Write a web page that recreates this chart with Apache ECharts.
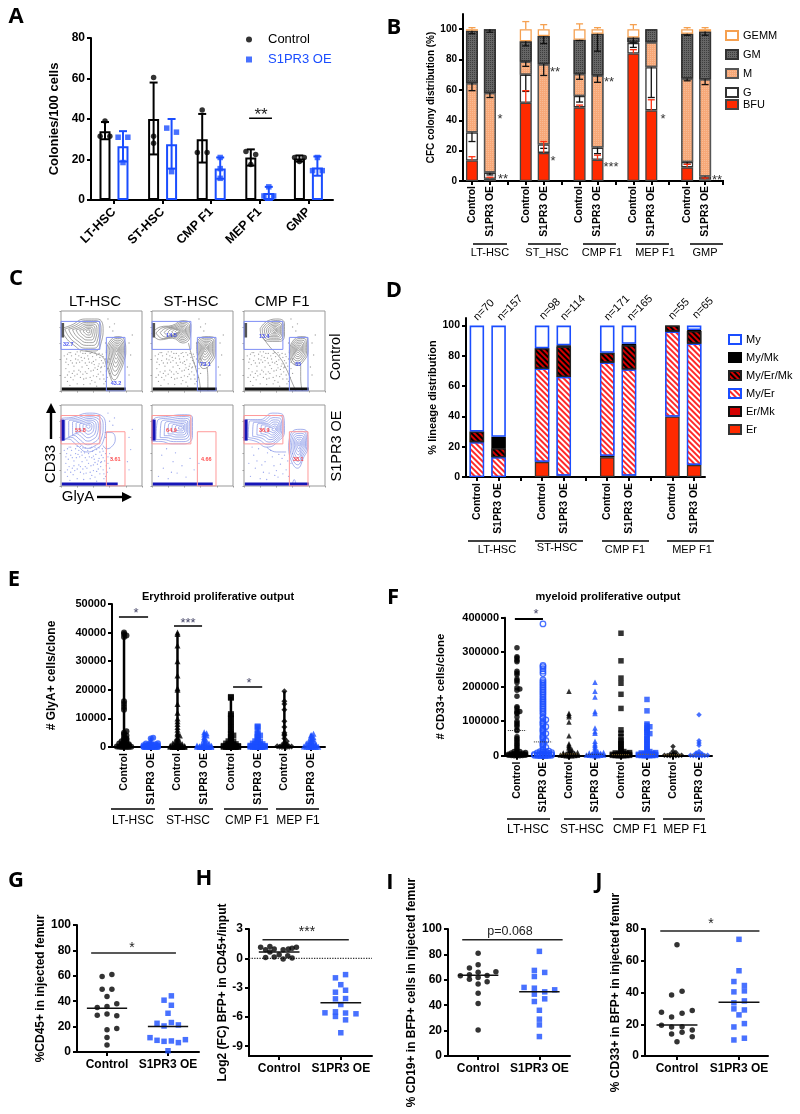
<!DOCTYPE html>
<html><head><meta charset="utf-8">
<style>html,body{margin:0;padding:0;background:#fff}#c{width:800px;height:1114px}</style>
<script src="https://cdn.jsdelivr.net/npm/echarts@6/dist/echarts.min.js"></script>
</head><body><div id="c"></div>
<script>
/* ---------- Panel A ---------- */
const aGroups=['LT-HSC','ST-HSC','CMP F1','MEP F1','GMP'];
const aControl=[34,40,30,21,20.5];
const aOE=[26.5,27.5,15.5,3.5,16];
const aControlErr=[[30,38.5],[22.5,58],[18.5,42.5],[17,25],[19,22]];
const aOEErr=[[19,34],[15.5,40],[10.5,21],[0,6.5],[12,21.5]];
const aControlDots=[[0,39],[-.1,31.5],[.1,31.5],[0,60.5],[0,31.5],[0,28],[0,44.5],[-.1,23.5],[.1,23.5],[-.1,24],[.1,22.5],[0,17.5],[-.1,21],[.1,21],[0,19]];
const aOEDots=[[-.1,31],[.1,31],[0,18.5],[-.1,35.5],[.1,33.5],[0,14],[0,21],[0,15.5],[0,10.7],[0,6.5],[-.1,2],[.1,2],[0,21],[-.1,14.5],[.1,14.5]];
/* ---------- Panel B ---------- */
const bCats=['Control','S1PR3 OE','','Control','S1PR3 OE','','Control','S1PR3 OE','','Control','S1PR3 OE','','Control','S1PR3 OE',''];
const bBFU=[13.5,1.5,0,51.5,18.5,0,48.5,14,0,84,46.5,0,9,1,0];
const bG=[18.5,4,0,18.5,5.5,0,7.5,8,0,7,28.5,0,3.5,2,0];
const bM=[32.5,52.5,0,8.5,53,0,14.5,47.5,0,.5,16.5,0,55,64,0];
const bGM=[34.5,42,0,13.5,18.5,0,22.5,27.5,0,3,8.5,0,29.5,31.5,0];
const bGEMM=[1,0,0,8,4.5,0,7,3,0,5.5,0,0,3,1.5,0];
const bErrBlack=[[0,32,26],[0,64.5,59.5],[0,99,97],[1,5.5,4],[1,58,55],[1,100,98],[3,70,59],[3,78.5,75.5],[3,92,89],[4,24,21.5],[4,77,69.5],[4,95.5,90.5],[6,56,52],[6,70.5,67],[6,93,92.5],[7,22,18],[7,69.5,65],[7,97,85.5],[9,91,88],[9,94.5,91],[10,75,55],[12,12.5,11],[12,67.5,66],[12,97,96],[13,3,2],[13,67,63.5],[13,98.5,96]];
const bErrRed=[[0,13.5,16],[1,1.5,2.5],[3,51.5,59.5],[4,18.5,26],[6,48.5,50],[7,14,17],[9,84,86.5],[10,46.5,53.5],[12,9,11],[13,1,2]];
const bErrOrange=[[0,100,101],[3,100,105],[4,100,103],[6,100,103.5],[7,100,101],[9,100,103],[12,100,101],[13,100,101]];
/* ---------- Panel D ---------- */
const dCats=['Control','S1PR3 OE','','Control','S1PR3 OE','','Control','S1PR3 OE','','Control','S1PR3 OE'];
const dEr=[0,0,0,10,0,0,13,0,0,40,8];
const dErMk=[0,0,0,0,1,0,1,1,0,0,0];
const dMyEr=[23,13,0,61.5,65,0,61.5,70,0,56,80];
const dMyErMk=[7,6,0,13.5,20,0,6.5,16,0,4,8.5];
const dMyMk=[0,7.5,0,0,1,0,0,1,0,0,.5];
const dMy=[70,73.5,0,15,13,0,18,12,0,0,3];
const dCounts=['n=70','n=157','n=98','n=114','n=171','n=165','n=55','n=65'];
/* ---------- Panel E ---------- */
const eCats=['Control','S1PR3 OE','Control','S1PR3 OE','Control','S1PR3 OE','Control','S1PR3 OE'];
const eLT0=[40000,39500,39000,38500,16000,15000,14000,13000,5500,5000,4500,4000,3500,3000,2800,2500,2200,2000,1800,1500,1200,1000,900,800,700,600,500,400,300,200,100,50,0,0,0,0];
const eLT1=[3200,3000,1500,1300,1200,1000,900,800,700,600,500,400,300,250,200,150,100,100,50,50,30,20,10,0,0,0,0,0,0,0];
const eST0=[40000,39500,35500,30000,25000,20500,20000,15000,12000,10000,9000,8000,7000,6000,5000,4500,4000,3500,3000,2500,2000,1800,1500,1200,1000,900,800,700,600,500,450,400,350,300,250,200,150,100,50,0,0,0,0,0,0];
const eST1=[5200,4800,4400,4000,3500,3000,2500,2000,1500,1200,1000,800,700,600,500,400,300,250,200,150,100,50,0,0,0,0,0,0];
const eCMP0=[17500,17200,11500,11000,10000,9000,8000,7000,6000,5000,4500,4000,3500,3000,2500,2000,1800,1500,1200,1000,900,800,700,600,500,450,400,350,300,250,200,150,100,50,0,0,0,0,0,0];
const eCMP1=[7200,6900,5000,4500,4000,3500,3000,2500,2000,1800,1500,1200,1000,900,800,700,600,500,450,400,350,300,250,200,150,100,50,0,0,0,0,0];
const eMEP0=[19500,16000,15000,13000,9000,7000,5000,4500,4000,3000,2000,1500,1000,800,600,500,400,300,200,100,50,0,0,0];
const eMEP1=[4600,4200,3800,3400,3000,2600,2200,2000,1800,1500,1200,1000,900,800,700,600,500,400,300,200,100,50,0,0,0,0];
const eSig=[[-.19,.9,45450,'*'],[1.87,2.92,42300,'***'],[4.08,5.17,21000,'*']];
/* ---------- Panel F ---------- */
const fLT0=[313000,287000,283000,277000,272000,245000,240000,235000,222000,218000,212000,197000,193000,190000,172000,142000,138000,130000,128000,125000,122000,112000,100000,95000,90000,85000,75000,72000,55000,50000,45000,40000,35000,30000,25000,20000,15000,12000,12000,10000,9000,8000,7000,6000,5000,5000,4000,4000,3000,3000,2000,2000,1000,1000,1000,500,500,0,0,0];
const fLT1=[382000,262000,258000,252000,245000,238000,220000,215000,210000,205000,200000,195000,190000,185000,180000,175000,170000,165000,160000,155000,150000,145000,140000,135000,130000,125000,120000,112000,108000,104000,100000,96000,92000,88000,84000,80000,76000,72000,68000,64000,60000,56000,52000,48000,44000,40000,36000,32000,28000,24000,20000,16000,13000,12000,11000,10000,9000,8000,7000,6000,5000,5000,4000,4000,3000,3000,2000,2000,1000,1000,1000,500,500,0,0,0];
const fST0=[187000,123000,118000,113000,98000,58000,35000,30000,26000,22000,18000,15000,12000,10000,9000,8000,7000,6000,5000,5000,4000,4000,3000,3000,2000,2000,1000,1000,500,0,0,0];
const fST1=[213000,187000,170000,128000,122000,80000,70000,65000,42000,35000,30000,25000,20000,15000,12000,10000,9000,8000,7000,6000,5000,5000,4000,4000,3000,3000,2000,2000,1000,1000,500,0,0];
const fCMP0=[355000,275000,225000,210000,178000,137000,75000,65000,55000,45000,40000,35000,30000,25000,20000,15000,12000,10000,9000,8000,7000,6000,5000,5000,4000,4000,3000,3000,2000,2000,1000,1000,1000,500,500,0,0,0];
const fCMP1=[163000,130000,92000,88000,84000,80000,76000,72000,68000,64000,60000,55000,50000,45000,40000,35000,30000,25000,20000,15000,12000,10000,9000,8000,7000,6000,5000,5000,4000,4000,3000,3000,2000,2000,1000,1000,1000,500,500,0,0,0];
const fMEP0=[27000,13000,9000,6000,4000,3000,2000,1500,1000,800,500,200,0,0];
const fMEP1=[119000,43000,37000,30000,12000,8000,6000,5000,4000,3000,2000,1500,1000,800,500,200,0,0];
const fMedians=[[-.35,.35,73000,'#333'],[.65,1.35,40000,'#333'],[1.65,2.35,5000,'#8a6a2a'],[2.65,3.35,4000,'#333'],[3.65,4.35,3000,'#8a6a2a'],[4.65,5.35,4000,'#8a6a2a'],[5.65,6.35,2500,'#8a6a2a'],[6.65,7.35,2500,'#8a6a2a']];
/* ---------- Panels G H I J : [offset from the group's centre, value] ---------- */
const gControl=[[-.08,59.5],[.08,61],[-.08,49.5],[.08,49.5],[0,43.7],[.16,38],[-.16,35],[0,35.8],[-.16,29],[0,30],[.16,28.5],[0,17.5],[.16,18.5],[0,11.5],[0,5.5]];
const gOE=[[.055,44.2],[-.065,40.8],[.055,36.8],[0,30.5],[-.18,22.6],[.055,23.2],[.17,21.3],[-.065,20.5],[-.295,11.3],[-.18,9.2],[-.065,8.4],[.055,8.7],[.17,7.4],[.285,9.7],[0,1]];
const hControl=[[-.3,1.12],[-.22,.88],[-.15,1.22],[-.08,.95],[-.22,.07],[-.15,.65],[-.08,.14],[0,.37],[.065,.88],[.065,-.07],[.14,.27],[.15,.95],[.21,1.02],[.21,.03],[.28,1.12]];
const hOE=[[.077,-1.67],[-.087,-2],[0,-2.7],[.077,-3.27],[-.087,-3.47],[-.087,-4.15],[.077,-4.12],[0,-4.73],[-.257,-5.58],[-.087,-5.48],[.077,-5.6],[.246,-5.68],[-.087,-5.95],[.077,-6.3],[0,-7.62]];
const iControl=[[0,81],[-.142,69.2],[0,71.8],[-.29,63.2],[-.142,64],[0,66],[.29,66.3],[-.142,60.5],[0,61.8],[.147,63.4],[0,56.6],[.147,58.4],[0,49.5],[0,41.3],[0,20.5]];
const iOE=[[0,82.4],[-.082,67.4],[.087,65.8],[-.082,62.6],[-.25,54],[-.082,53.4],[.25,52.1],[.087,50.5],[-.082,48.7],[.087,45],[-.082,42.9],[0,36],[0,29],[0,24.5],[0,15.3]];
const jControl=[[0,70.1],[.082,40.8],[-.087,38.5],[-.25,27.6],[.246,28.6],[.082,26.9],[-.087,24.6],[-.25,19.4],[-.087,18.3],[.082,18.5],[.246,16.4],[.082,14.9],[-.087,13.9],[.246,12.2],[0,9]];
const jOE=[[0,73.5],[0,53.7],[-.082,46.9],[.087,44.4],[-.082,40.4],[.087,41],[.087,34.7],[-.082,33.5],[-.082,29.7],[.087,29],[0,25.9],[.087,20.4],[-.082,18.3],[.087,11.2],[-.082,10.1]];
const medians={g:[34.5,20],h:[.65,-4.55],i:[63.5,50.5],j:[19.5,33.8]};
/* ---------- Panel C : contours and gates, percent of each plot ---------- */
const cGateA=[0,52,48,87];
const cGateB=[56,0,79,67];
const cPlots=[
 {blobs:[{o:[[0,78],[12,82],[30,90],[45,90],[52,78],[50,62],[42,50],[30,50],[15,58],[5,68]],c:[34,75]},{o:[[56,50],[60,62],[70,68],[78,64],[80,50],[78,38],[72,22],[66,14],[60,25],[57,40]],c:[69,52]}],tails:[[[30,50],[42,47],[52,42],[56,32],[60,20],[63,12]]],labels:['32.7','43.2'],lp:[[9,58],[68,9]],oe:0,band:80},
 {blobs:[{o:[[0,72],[10,80],[25,82],[38,88],[48,82],[47,68],[38,60],[25,66],[10,64]],c:[36,75]},{o:[[55,56],[58,65],[68,68],[78,64],[78,48],[72,34],[64,28],[58,36]],c:[66,54]}],tails:[[[45,60],[48,48],[52,35],[55,25],[58,15],[60,0]],[[68,30],[69,15],[69,0]]],labels:['14.5','79.1'],lp:[[24,69],[66,33]],oe:0,band:80},
 {blobs:[{o:[[20,78],[30,88],[42,90],[50,84],[50,70],[44,62],[32,62],[22,68]],c:[38,76]},{o:[[56,50],[60,62],[70,68],[78,66],[79,50],[74,38],[66,32],[58,38]],c:[67,52]}],tails:[[[24,66],[32,55],[44,42],[52,28],[58,14],[64,0]],[[70,32],[70,15],[72,0]]],labels:['13.4','65'],lp:[[25,68],[67,33]],oe:0,band:80},
 {blobs:[{o:[[0,55],[0,82],[15,85],[35,90],[48,88],[55,75],[52,55],[42,45],[32,42],[20,50],[8,58]],c:[34,74]}],tails:[[[54,66],[62,66],[67,58],[62,48],[56,46],[52,50]]],labels:['55.8','3.61'],lp:[[24,68],[67,33]],oe:1,band:70},
 {blobs:[{o:[[0,55],[2,82],[20,86],[40,88],[50,84],[50,62],[40,52],[25,52],[10,55]],c:[36,72]}],tails:[],labels:['64.9','4.66'],lp:[[24,68],[67,33]],oe:1,band:75},
 {blobs:[{o:[[0,58],[2,82],[20,82],[35,90],[48,88],[50,68],[42,55],[28,48],[15,55]],c:[38,70]},{o:[[55,48],[58,65],[70,70],[78,66],[79,48],[74,36],[66,22],[58,32]],c:[68,52]}],tails:[[[28,48],[40,42],[52,42]],[[60,3],[62,8],[64,3]]],labels:['36.9','38.1'],lp:[[25,68],[67,33]],oe:1,band:80}
];
const cSpeckle=[[8,12],[14,22],[20,9],[26,30],[31,16],[37,25],[42,11],[47,34],[52,20],[58,28],[12,38],[18,46],[24,17],[29,41],[35,36],[40,19],[45,27],[50,38],[55,12],[60,40],[6,28],[10,48],[16,31],[22,26],[28,8],[33,44],[38,13],[43,39],[48,15],[54,31],[5,17],[11,7],[19,35],[25,42],[30,24],[36,9],[41,33],[46,21],[51,46],[57,17],[62,34],[7,40],[15,14],[21,39],[27,21],[32,32],[39,43],[44,6],[49,29],[53,9],[82,30],[84,60],[86,45],[60,80],[66,84],[58,90],[84,20],[88,70],[64,75],[55,60],
 [9,33],[13,44],[17,19],[23,36],[27,47],[34,40],[36,47],[40,37],[44,45],[48,42],[52,43],[56,48],[50,30],[46,31],[42,29],[38,35],[34,28],[30,35],[26,38],[22,44],[18,40],[14,35],[10,24],[6,36],[4,44],[8,46],[12,48],[20,49],[24,49],[30,47],[38,48],[42,48],[47,47],[52,35],[55,40],[58,36],[60,22],[56,25],[53,15],[49,24],[44,18],[40,26],[36,17],[32,22],[28,15],[24,24],[20,21],[16,25],[12,17],[8,20]];

/* ---------- colours ---------- */
const BLUE='#1a4dff', RED='#ff2a00', FONT='"Liberation Sans",Arial,sans-serif';

/* ---------- builders ---------- */
const grid=[],xAxis=[],yAxis=[],series=[],graphic=[];
const lineAx={show:true,onZero:false,lineStyle:{color:'#000',width:2}};
const tickAx=(len=4)=>({show:true,length:len,lineStyle:{color:'#000',width:2}});
function panel(l,r,t,b,x,y){
  const i=grid.length;
  grid.push({left:l,top:t,width:r-l,height:b-t,containLabel:false});
  xAxis.push(Object.assign({gridIndex:i,type:'value',splitLine:{show:false},axisLine:lineAx,axisTick:tickAx()},x));
  yAxis.push(Object.assign({gridIndex:i,type:'value',splitLine:{show:false},axisLine:lineAx,axisTick:tickAx()},y));
  return i;
}
const yLab=(fs,extra)=>Object.assign({color:'#000',fontFamily:FONT,fontWeight:'bold',fontSize:fs,margin:6,formatter:v=>String(v)},extra||{});
const yName=(name,gap,fs)=>({name,nameLocation:'middle',nameGap:gap,nameRotate:90,nameTextStyle:{fontFamily:FONT,fontWeight:'bold',fontSize:fs,color:'#000'}});
function xCustom(vals,fs,fmt,rotate,margin){
  return {axisTick:Object.assign(tickAx(),{customValues:vals}),axisLabel:{customValues:vals,formatter:fmt,rotate:rotate||0,margin:margin||6,color:'#000',fontFamily:FONT,fontWeight:'bold',fontSize:fs,showMinLabel:true,showMaxLabel:true,hideOverlap:false}};
}
function seg(g,pts,color,width,type,z){
  series.push({type:'line',xAxisIndex:g,yAxisIndex:g,data:pts,symbol:'none',silent:true,animation:false,z:z||6,lineStyle:{color,width,type:type||'solid'}});
}
function dots(g,name,data,symbol,size,color,hollow){
  series.push({type:'scatter',name,xAxisIndex:g,yAxisIndex:g,data,symbol,symbolSize:size,animation:false,z:5,
    itemStyle:hollow?{color:'rgba(255,255,255,0)',borderColor:color,borderWidth:1.3}:{color}});
}
function errs(g,data,color,cap,both,lw){
  series.push({type:'custom',xAxisIndex:g,yAxisIndex:g,data,silent:true,animation:false,z:4,encode:{x:0,y:[1,2]},
    renderItem(p,api){
      const x=api.value(0),a=api.coord([x,api.value(1)]),b=api.coord([x,api.value(2)]);
      const st={stroke:color,lineWidth:lw||1.5};
      const kids=[{type:'line',shape:{x1:a[0],y1:a[1],x2:b[0],y2:b[1]},style:st},
                  {type:'line',shape:{x1:b[0]-cap,y1:b[1],x2:b[0]+cap,y2:b[1]},style:st}];
      if(both)kids.push({type:'line',shape:{x1:a[0]-cap,y1:a[1],x2:a[0]+cap,y2:a[1]},style:st});
      return {type:'group',children:kids};
    }});
}
function txt(x,y,text,o){
  o=o||{};
  graphic.push({type:'text',x,y,rotation:o.rot||0,silent:true,style:{text,fill:o.color||'#000',textAlign:o.align||'center',textVerticalAlign:'middle',fontFamily:o.family||FONT,fontWeight:o.weight||'normal',fontSize:o.size||12}});
}
function gline(x1,y1,x2,y2,w,c){graphic.push({type:'line',silent:true,shape:{x1,y1,x2,y2},style:{stroke:c||'#000',lineWidth:w||1.5}});}
function groups(list,y,ly,size){list.forEach(g=>{gline(g[0],y,g[1],y,1.5);txt(g[3],g[4]||ly,g[2],{size});});}
const stars=(x,y,t,size,color)=>txt(x,y,t,{size:size||14,color:color||'#333'});

/* ---------- A ---------- */
{
 const g=panel(91,333,38,200,
  Object.assign({min:-.473,max:4.506},xCustom([0,1,2,3,4],12.5,v=>aGroups[v],45,10)),
  Object.assign({min:0,max:80,interval:20,axisLabel:yLab(12)},yName('Colonies/100 cells',30,13)));
 const bar=(name,d,off,c)=>series.push({type:'bar',name,xAxisIndex:g,yAxisIndex:g,barWidth:11,barGap:'-100%',animation:false,z:2,
   data:d.map((v,i)=>[i+off,v]),itemStyle:{color:'#fff',borderColor:c,borderWidth:2}});
 bar('Control bars',aControl,-.185,'#000');bar('S1PR3 OE bars',aOE,.185,BLUE);
 errs(g,aControlErr.map((e,i)=>[i-.185,e[0],e[1]]),'#000',4,true,2);
 errs(g,aOEErr.map((e,i)=>[i+.185,e[0],e[1]]),BLUE,4,true,2);
 const rep=(arr,base)=>arr.map((d,i)=>[Math.floor(i/3)+base+d[0],d[1]]);
 dots(g,'Control',rep(aControlDots,-.185),'circle',5.5,'#000');
 dots(g,'S1PR3 OE',rep(aOEDots,.185),'rect',5.5,BLUE);
 seg(g,[[2.78,40.4],[3.25,40.4]],'#000',1.5);
 stars(261,115,'**',17,'#222');
}
/* ---------- B ---------- */
{
 const g=panel(463,732,14,181,
  {type:'category',data:bCats,axisLine:{show:false,onZero:false},axisTick:Object.assign(tickAx(),{alignWithLabel:true}),axisLabel:{interval:0,rotate:90,margin:5,color:'#000',fontFamily:FONT,fontWeight:'bold',fontSize:10.4}},
  Object.assign({min:0,max:110,axisTick:Object.assign(tickAx(),{customValues:[0,20,40,60,80,100]}),axisLabel:Object.assign(yLab(10),{customValues:[0,20,40,60,80,100]})},yName('CFC colony distribution (%)',25,10)));
 gline(462,181,724,181,2);
 const dotDecal=c=>({symbol:'rect',symbolSize:1,dashArrayX:[1,1],dashArrayY:[1,1],color:c});
 const st=(name,d,s)=>series.push({type:'bar',name,stack:'b',xAxisIndex:g,yAxisIndex:g,barWidth:12,animation:false,z:2,
   data:d.map(v=>v||null),itemStyle:Object.assign({borderWidth:1.3},s)});
 st('BFU',bBFU,{color:RED,borderColor:'#444'});
 st('G',bG,{color:'#fff',borderColor:'#333'});
 st('M',bM,{color:'#f7a878',borderColor:'#555',decal:dotDecal('rgba(255,255,255,.22)')});
 st('GM',bGM,{color:'#666',borderColor:'#333',decal:dotDecal('rgba(0,0,0,.4)')});
 st('GEMM',bGEMM,{color:'#fff',borderColor:'#f5a050'});
 errs(g,bErrBlack,'#111',3.5,false,1.3);
 errs(g,bErrRed,'#ff3010',3.5,false,1.3);
 errs(g,bErrOrange,'#f5a050',3.5,false,1.3);
 groups([[473,507,'LT-HSC',490],[528,561,'ST_HSC',547],[583,616,'CMP F1',602],[636,669,'MEP F1',655],[690,723,'GMP',705]],244,252.5,11);
 [[500,119,'*'],[503,179,'**'],[555,72,'**'],[553,161,'*'],[609,82,'**'],[611,167,'***'],[663,119,'*'],[717,180,'**']].forEach(s=>stars(s[0],s[1],s[2],13,'#333'));
}
/* ---------- C ---------- */
{
 const X=[[61,142],[152,233],[244,325]],Y=[[311,391],[405,486]];
 const rings=[1,.86,.72,.58,.45,.32,.2,.09];
 cPlots.forEach((p,n)=>{
  const xr=X[n%3],yr=Y[n<3?0:1],c=p.oe?'#6a7ce0':'#666';
  const ax=()=>({min:0,max:100,interval:20,axisLine:{show:false,onZero:false},axisLabel:{show:false},axisTick:{show:true,inside:false,length:1.5,lineStyle:{color:'#999',width:1}}});
  const g=panel(xr[0],xr[1],yr[0],yr[1],ax(),ax());
  grid[g].show=true;grid[g].borderColor='#999';grid[g].borderWidth=1;
  const sp=n===4?cSpeckle.slice(0,14):n===5?cSpeckle.slice(0,30):cSpeckle;
  series.push({type:'scatter',xAxisIndex:g,yAxisIndex:g,silent:true,animation:false,symbolSize:1.3,data:sp,itemStyle:{color:p.oe?'#7f8ee8':'#888'},z:1});
  const cont=[];
  p.blobs.forEach(b=>rings.forEach(s=>{
    b.o.forEach(q=>cont.push([b.c[0]+(q[0]-b.c[0])*s,b.c[1]+(q[1]-b.c[1])*s]));
    const q=b.o[0];cont.push([b.c[0]+(q[0]-b.c[0])*s,b.c[1]+(q[1]-b.c[1])*s]);cont.push([null,null]);
  }));
  p.tails.forEach(t=>{t.forEach(q=>cont.push(q));cont.push([null,null]);});
  series.push({type:'line',xAxisIndex:g,yAxisIndex:g,silent:true,animation:false,symbol:'none',smooth:.5,connectNulls:false,data:cont,lineStyle:{color:c,width:.6},z:2});
  const dark=p.oe?'#1616b8':'#111';
  seg(g,[[1,2.5],[p.band,2.5]],dark,3,'solid',3);
  seg(g,[[2,p.oe?56:67],[2,p.oe?82:85]],p.oe?'#1616b8':'#555',p.oe?4:3,'solid',3);
  const gc=p.oe?'#ff9a9a':'#7f8ff5';
  const rect=r=>[[r[0],r[1]],[r[2],r[1]],[r[2],r[3]],[r[0],r[3]],[r[0],r[1]]];
  seg(g,rect(cGateA),gc,1,'solid',4);seg(g,rect(cGateB),gc,1,'solid',4);
  series.push({type:'scatter',xAxisIndex:g,yAxisIndex:g,silent:true,animation:false,symbolSize:0,z:7,
    data:p.lp.map((q,i)=>({value:q,label:{show:true,position:'inside',formatter:p.labels[i],fontFamily:FONT,fontWeight:'bold',fontSize:5.5,color:p.oe?'#ff2020':'#2030f0'}}))});
 });
 txt(95,302,'LT-HSC',{size:15});txt(191,302,'ST-HSC',{size:15});txt(282,302,'CMP F1',{size:15});
 txt(336,357,'Control',{size:14.5,rot:Math.PI/2});txt(337,446,'S1PR3 OE',{size:14.5,rot:Math.PI/2});
 txt(51,464,'CD33',{size:15,rot:Math.PI/2});txt(78,497,'GlyA',{size:15});
 gline(51,439,51,408,2.4);gline(97,497,126,497,2.4);
 graphic.push({type:'polygon',silent:true,shape:{points:[[51,403],[46,413],[56,413]]},style:{fill:'#000'}});
 graphic.push({type:'polygon',silent:true,shape:{points:[[132,497],[122,492],[122,502]]},style:{fill:'#000'}});
}
/* ---------- D ---------- */
{
 const g=panel(466,705,318,477,
  {type:'category',data:dCats,axisTick:Object.assign(tickAx(),{alignWithLabel:true}),axisLabel:{interval:0,rotate:90,margin:6,color:'#000',fontFamily:FONT,fontWeight:'bold',fontSize:10.4}},
  Object.assign({min:0,max:105,axisTick:Object.assign(tickAx(),{customValues:[0,20,40,60,80,100]}),axisLabel:Object.assign(yLab(10.5),{customValues:[0,20,40,60,80,100]})},yName('% lineage distribution',22,11)));
 const hatch=(c)=>({symbol:'rect',symbolSize:1,dashArrayX:[1,0],dashArrayY:[2,2],rotation:Math.PI/4,color:c});
 const st=(name,d,s)=>series.push({type:'bar',name,stack:'d',xAxisIndex:g,yAxisIndex:g,barWidth:14.5,animation:false,z:2,data:d.map(v=>v||null),itemStyle:Object.assign({borderWidth:1.3},s)});
 st('Er',dEr,{color:RED,borderColor:'#333'});
 st('Er/Mk',dErMk,{color:'#d40000',borderColor:'#111'});
 st('My/Er',dMyEr,{color:'#fff',borderColor:BLUE,decal:hatch('#ff2a2a')});
 st('My/Er/Mk',dMyErMk,{color:'#d40000',borderColor:'#222',decal:hatch('#000')});
 st('My/Mk',dMyMk,{color:'#000',borderColor:'#000'});
 st('My',dMy,{color:'#fff',borderColor:BLUE,borderWidth:1.6});
 groups([[468,516,'LT-HSC',497],[535,583,'ST-HSC',557,548],[602,649,'CMP F1',625],[667,714,'MEP F1',692]],541,550,11);
 [[484,310],[510,308],[550,309],[573,308],[617,308],[640,308],[679,309],[703,308]].forEach((q,i)=>txt(q[0],q[1],dCounts[i],{size:11,rot:Math.PI/4}));
}
/* ---------- swarm: spreads equal-valued points sideways ---------- */
function swarm(vals,base,bin,step,maxOff){
  const seen={},m=Math.floor(maxOff/step);
  return vals.slice().sort((a,b)=>a-b).map(v=>{
    const b=Math.floor(v/bin);seen[b]=seen[b]||0;
    const k=seen[b]++%(2*m+1);
    return [base+(k%2?1:-1)*Math.ceil(k/2)*step,v];
  });
}
/* ---------- E ---------- */
{
 const g=panel(112,325,604,747,
  Object.assign({min:-.45,max:7.52},xCustom([0,1,2,3,4,5,6,7],10.6,v=>eCats[v],90,6)),
  Object.assign({min:0,max:50000,interval:10000,axisLabel:yLab(11)},yName('# GlyA+ cells/clone',54,12)));
 const sets=[[eLT0,'circle','#000'],[eLT1,'circle',BLUE],[eST0,'triangle','#000'],[eST1,'triangle',BLUE],[eCMP0,'rect','#000'],[eCMP1,'rect',BLUE],[eMEP0,'diamond','#000'],[eMEP1,'triangle',BLUE]];
 sets.forEach((s,i)=>{
  seg(g,[[i,0],[i,Math.max(...s[0])]],s[2],2.5,'solid',4);
  dots(g,'E '+eCats[i]+' '+i,swarm(s[0],i,700,.09,.3),s[1],6,s[2]);
 });
 eSig.forEach(s=>seg(g,[[s[0],s[2]],[s[1],s[2]]],'#000',1.5));
 stars(136,613,'*',13,'#446');stars(188,623,'***',13,'#446');stars(249,683,'*',13,'#446');
 groups([[111,155,'LT-HSC',133],[169,213,'ST-HSC',188],[224,268,'CMP F1',247],[276,319,'MEP F1',298]],809,821,12);
 txt(218,597,'Erythroid proliferative output',{size:11,weight:'bold'});
}
/* ---------- F ---------- */
{
 const g=panel(505,712,617.7,755.7,
  Object.assign({min:-.46,max:7.5},xCustom([0,1,2,3,4,5,6,7],10.4,v=>eCats[v],90,6)),
  Object.assign({min:0,max:400000,interval:100000,axisLabel:yLab(11)},yName('# CD33+ cells/clone',59,11.3)));
 const sets=[[fLT0,'circle','#000',0],[fLT1,'circle',BLUE,1],[fST0,'triangle','#000',0],[fST1,'triangle',BLUE,0],[fCMP0,'rect','#000',0],[fCMP1,'rect',BLUE,0],[fMEP0,'diamond','#000',0],[fMEP1,'diamond',BLUE,0]];
 sets.forEach((s,i)=>dots(g,'F '+eCats[i]+' '+i,swarm(s[0],i,5000,.11,.36),s[1],5.5,s[2],s[3]));
 fMedians.forEach(m=>seg(g,[[m[0],m[2]],[m[1],m[2]]],m[3],1,'dotted',7));
 seg(g,[[-.08,396000],[1,396000]],'#000',2);
 stars(536,614,'*',13,'#446');
 groups([[507,550,'LT-HSC',528],[564,601,'ST-HSC',582],[613,655,'CMP F1',635],[663,705,'MEP F1',685]],819,830,12);
 txt(608,597,'myeloid proliferative output',{size:11,weight:'bold'});
}
/* ---------- G H I J ---------- */
function swarmPanel(l,r,t,b,xmin,xmax,yopt,name,nameGap,ctrl,oe,med,medHalf,sig){
 const g=panel(l,r,t,b,
  Object.assign({min:xmin,max:xmax},xCustom([1,2],12,v=>v===1?'Control':'S1PR3 OE',0,7)),
  Object.assign({axisLabel:yLab(12)},yopt,yName(name,nameGap,12)));
 dots(g,name+' Control',ctrl.map(d=>[1+d[0],d[1]]),'circle',5.5,'#000');
 dots(g,name+' S1PR3 OE',oe.map(d=>[2+d[0],d[1]]),'rect',5.5,BLUE);
 seg(g,[[1-medHalf,med[0]],[1+medHalf,med[0]]],'#111',1.5);
 seg(g,[[2-medHalf,med[1]],[2+medHalf,med[1]]],'#111',1.5);
 seg(g,[[sig[0],sig[2]],[sig[1],sig[2]]],'#222',1.5);
 return g;
}
swarmPanel(77,199,925,1052,.508,2.508,{min:0,max:100,interval:20},'%CD45+ in injected femur',29,gControl,gOE,medians.g,.33,[.74,2.13,78]);
stars(132,948,'*',14,'#222');
{
 const yv=[3,0,-3,-6,-9];
 const g=swarmPanel(249,372,929,1056,.511,2.506,{min:-10,max:3,axisTick:Object.assign(tickAx(),{customValues:yv}),axisLabel:yLab(12,{customValues:yv})},'Log2 (FC) BFP+ in CD45+/input',20,hControl,hOE,medians.h,.33,[.73,2.13,1.9]);
 seg(g,[[.511,0],[2.506,0]],'#333',1.3,'dotted',3);
}
stars(307,932,'***',14,'#222');
swarmPanel(448,570,929,1056,.508,2.5,{min:0,max:100,interval:20},'% CD19+ in BFP+ cells in injected femur',29,iControl,iOE,medians.i,.33,[.74,2.38,91.5]);
txt(510,932,'p=0.068',{size:12.5,color:'#222'});
swarmPanel(645,768,929,1056,.484,2.468,{min:0,max:80,interval:20},'% CD33+ in BFP+ in injected femur',22,jControl,jOE,medians.j,.33,[.73,2.33,78.8]);
stars(711,924,'*',14,'#222');

/* ---------- panel letters ---------- */
[['A',16,17],['B',394,28],['C',16,279],['D',394,291],['E',14,580],['F',393,598],['G',16,881],['H',204,879],['I',390,883],['J',599,882]].forEach(l=>txt(l[1],l[2],l[0],{size:22,weight:'bold',family:'"Open Sans",sans-serif'}));

/* ---------- legends ---------- */
const legText=(fs,c)=>({fontFamily:FONT,fontSize:fs,color:c||'#000'});
const legend=[
 {left:241,top:28,orient:'vertical',itemWidth:6,itemHeight:6,itemGap:7,selectedMode:false,
  data:[{name:'Control',icon:'circle',textStyle:Object.assign(legText(13,'#000'),{padding:[0,0,0,11]})},{name:'S1PR3 OE',icon:'rect',textStyle:Object.assign(legText(13,BLUE),{padding:[0,0,0,11]})}],textStyle:legText(13)},
 {left:720,top:25,orient:'vertical',itemWidth:12,itemHeight:9,itemGap:8,selectedMode:false,icon:'rect',data:['GEMM','GM','M','G'],textStyle:legText(11)},
 {left:720,top:94,orient:'vertical',itemWidth:12,itemHeight:9,selectedMode:false,icon:'rect',data:['BFU'],textStyle:legText(11)},
 {left:723,top:329,orient:'vertical',itemWidth:12,itemHeight:9,itemGap:7,selectedMode:false,icon:'rect',data:['My','My/Mk','My/Er/Mk','My/Er','Er/Mk','Er'],textStyle:legText(11)}
];

const chart=echarts.init(document.getElementById('c'),null,{renderer:'canvas'});
chart.setOption({animation:false,backgroundColor:'#fff',grid,xAxis,yAxis,series,graphic,legend,textStyle:{fontFamily:FONT}});
</script></body></html>
